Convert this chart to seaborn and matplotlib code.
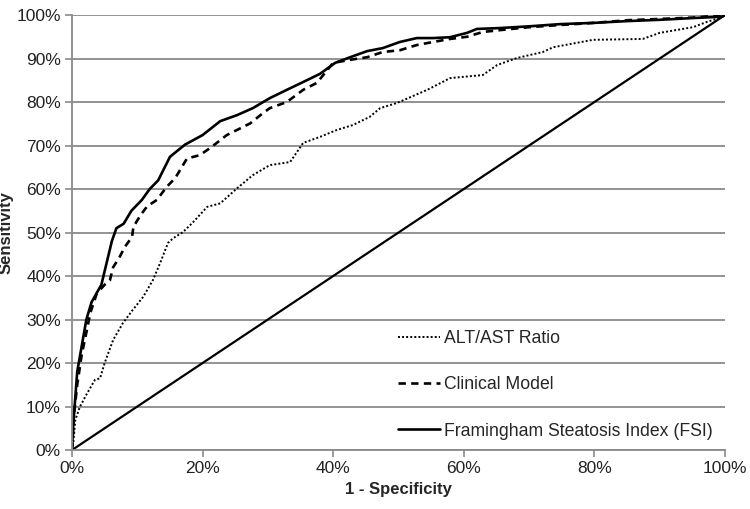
import matplotlib
matplotlib.use("Agg")
import numpy as np
import pandas as pd
import seaborn as sns
from matplotlib import pyplot as plt
from matplotlib.ticker import PercentFormatter, MultipleLocator

# ROC curves, values in percent (1 - specificity, sensitivity)
fsi_x = [0, 0.2, 0.5, 0.8, 1.5, 2.2, 3.0, 4.5, 5.3, 6.1, 6.8, 7.9, 9.1, 10.7, 11.9,
         13.2, 15.0, 17.3, 20.0, 22.7, 25.3, 27.7, 30.3, 32.9, 35.4, 38.0, 40.3,
         42.6, 45.2, 47.6, 50.2, 52.8, 55.3, 57.9, 60.5, 62.0, 65.5, 70.0, 74.7,
         80.0, 85.0, 90.0, 95.0, 99.5, 100]
fsi_y = [0, 6, 12, 18, 24, 30, 34, 38, 43, 48, 51, 52, 55, 57.5, 60,
         62, 67.4, 70.2, 72.4, 75.6, 77, 78.6, 80.9, 82.8, 84.6, 86.5, 89,
         90.3, 91.7, 92.4, 93.8, 94.7, 94.7, 94.9, 95.9, 96.8, 97, 97.4, 97.9,
         98.2, 98.6, 98.9, 99.3, 99.6, 100]

clin_x = [0, 0.3, 0.8, 1.5, 2.2, 2.8, 3.8, 5.0, 5.8, 6.3, 7.3, 8.1, 9.2, 9.4,
          10.5, 11.5, 13.0, 14.5, 15.8, 17.6, 19.6, 21.4, 23.7, 27.3, 29.2, 30.3,
          32.9, 35.4, 37.5, 40.0, 42.6, 45.2, 47.6, 50.2, 52.8, 55.3, 57.9, 60.5,
          62.9, 66.0, 70.0, 74.7, 80.0, 85.0, 90.0, 95.0, 100]
clin_y = [0, 8, 15, 22, 27, 31.5, 36, 38, 39, 42, 44.4, 46.7, 49, 51.3,
          54, 56, 57.5, 60.5, 62.5, 67, 67.8, 69.7, 72.4, 75.1, 77.4, 78.6,
          80, 82.8, 84.4, 89, 89.7, 90.3, 91.5, 91.9, 93.1, 93.8, 94.5, 95,
          96.1, 96.6, 97.2, 97.7, 98.2, 98.8, 99.1, 99.4, 100]

alt_x = [0, 0.2, 0.5, 1.2, 2.3, 3.5, 4.3, 5.0, 6.3, 7.8, 9.3, 10.9, 12.4, 13.5,
         14.7, 15.5, 17.0, 18.5, 20.7, 22.7, 25.3, 27.7, 30.3, 33.4, 35.4, 38.0,
         40.6, 43.0, 45.6, 47.2, 49.8, 54.4, 57.9, 62.9, 65.1, 68.1, 72.1, 73.7,
         79.8, 87.4, 90.0, 95.1, 97.2, 99.7, 100]
alt_y = [0, 1.6, 6.9, 9.9, 13, 16.1, 16.5, 20, 25.3, 29.2, 32.2, 35.2, 39.1, 43,
         47.6, 48.7, 50.1, 52.3, 55.9, 56.7, 60.2, 63.2, 65.5, 66.2, 70.6, 72,
         73.6, 74.7, 76.6, 78.6, 79.8, 82.8, 85.5, 86.2, 88.5, 90.1, 91.5, 92.6,
         94.3, 94.5, 95.9, 97.2, 98.4, 99.6, 100]

ref_x = [0, 100]
ref_y = [0, 100]

labels = ["ALT/AST Ratio", "Clinical Model", "Framingham Steatosis Index (FSI)"]

sns.set_style("white")
plt.rcParams['font.family'] = ['Liberation Sans', 'DejaVu Sans']

fig, ax = plt.subplots(figsize=(7.5, 5.09), dpi=100)
fig.subplots_adjust(left=0.096, right=0.9667, top=0.9705, bottom=0.1159)

grey = "#8a8a8a"
ax.grid(axis="y", color=grey, linewidth=1.3)
ax.set_axisbelow(True)

sns.lineplot(x=ref_x, y=ref_y, ax=ax, color="black", linewidth=1.6,
             estimator=None, sort=False)
sns.lineplot(x=alt_x, y=alt_y, ax=ax, color="black", linewidth=1.4,
             linestyle=(0, (1, 1.1)), estimator=None, sort=False, label=labels[0])
sns.lineplot(x=clin_x, y=clin_y, ax=ax, color="black", linewidth=1.9,
             linestyle=(0, (2.8, 2.0)), estimator=None, sort=False, label=labels[1])
sns.lineplot(x=fsi_x, y=fsi_y, ax=ax, color="black", linewidth=1.9,
             estimator=None, sort=False, label=labels[2])

ax.set_xlim(0, 100)
ax.set_ylim(0, 100)
ax.xaxis.set_major_locator(MultipleLocator(20))
ax.yaxis.set_major_locator(MultipleLocator(10))
ax.xaxis.set_major_formatter(PercentFormatter(100, decimals=0))
ax.yaxis.set_major_formatter(PercentFormatter(100, decimals=0))
ax.tick_params(axis="both", direction="out", length=5, width=1.2, color=grey,
               labelsize=12.5, labelcolor="#222222", pad=3, left=True, bottom=True)

for side in ["top", "right"]:
    ax.spines[side].set_visible(False)
for side in ["left", "bottom"]:
    ax.spines[side].set_color(grey)
    ax.spines[side].set_linewidth(1.3)

ax.set_xlabel("1 - Specificity", fontsize=12, fontweight="bold", labelpad=4)
ax.set_ylabel("Sensitivity", fontsize=12, fontweight="bold", labelpad=2)

ax.legend(loc="upper left", bbox_to_anchor=(0.499, 0.276), frameon=False,
          fontsize=12.7, handlelength=2.4, handletextpad=0.2, labelspacing=1.66,
          borderpad=0, borderaxespad=0)

plt.savefig("out.png", dpi=100)
